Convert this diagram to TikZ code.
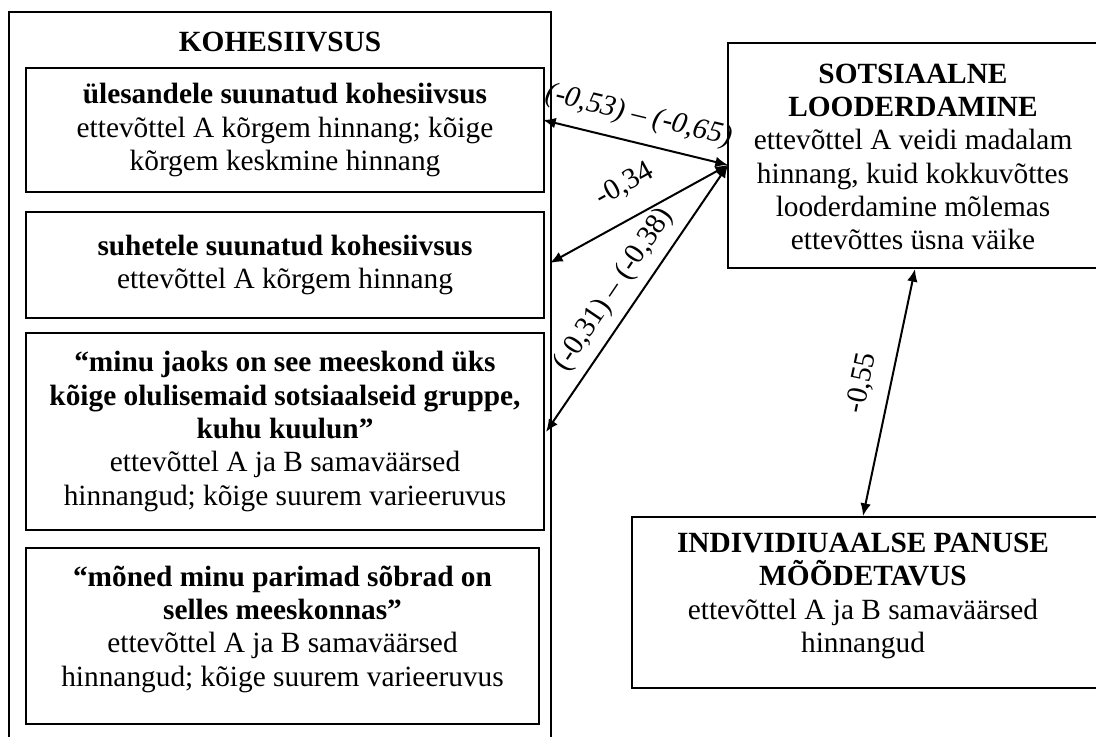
\documentclass[tikz,border=0pt]{standalone}
\usepackage{fontspec}
\setmainfont{Liberation Serif}
\usetikzlibrary{arrows.meta}
\begin{document}
\begin{tikzpicture}[x=0.75pt,y=-0.75pt,
  box/.style={draw,line width=1.5pt,align=center,inner sep=0pt,
    font=\fontsize{22}{25}\selectfont},
  txt/.style={align=center,inner sep=0pt,font=\fontsize{22}{25}\selectfont},
  conn/.style={line width=1.5pt,{Latex[length=9.5pt,width=8pt]}-{Latex[length=9.5pt,width=8pt]}},
  lab/.style={font=\fontsize{22}{25}\selectfont,inner sep=1pt}]
\useasboundingbox (0,0) rectangle (1096,736);
% outer container
\draw[line width=1.5pt] (9,745) -- (9,12) -- (551,12) -- (551,745);
\node[font=\bfseries\fontsize{22}{25}\selectfont] (title) at (280,42) {KOHESIIVSUS};
\node[box,minimum width=388.5pt,minimum height=93pt] (b1) at (285,130)
  {\textbf{ülesandele suunatud kohesiivsus}\\ettevõttel A kõrgem hinnang; kõige\\kõrgem keskmine hinnang};
\node[box,minimum width=388.5pt,minimum height=79.5pt] (b2) at (285,265)
  {\textbf{suhetele suunatud kohesiivsus}\\ettevõttel A kõrgem hinnang};
\node[box,minimum width=388.5pt,minimum height=147.75pt] (b3) at (285,431.5)
  {\textbf{“minu jaoks on see meeskond üks}\\\textbf{kõige olulisemaid sotsiaalseid gruppe,}\\\textbf{kuhu kuulun”}\\ettevõttel A ja B samaväärsed\\hinnangud; kõige suurem varieeruvus};
\node[box,minimum width=384.75pt,minimum height=132pt] (b4) at (282.5,636) {};
\node[txt] (b4t) at (282.5,629)
  {\textbf{“mõned minu parimad sõbrad on}\\\textbf{selles meeskonnas”}\\ettevõttel A ja B samaväärsed\\hinnangud; kõige suurem varieeruvus};
% right boxes (their right edges lie beyond the picture's edge)
\node[box,minimum width=286.5pt,minimum height=168.75pt] (sl) at (919,155.5) {};
\node[txt] (slt) at (913,157)
  {\textbf{SOTSIAALNE}\\\textbf{LOODERDAMINE}\\ettevõttel A veidi madalam\\hinnang, kuid kokkuvõttes\\looderdamine mõlemas\\ettevõttes üsna väike};
\node[box,minimum width=358.5pt,minimum height=128.25pt] (ip) at (871,602.5) {};
\node[txt] (ipt) at (863,596)
  {\textbf{INDIVIDIUAALSE PANUSE}\\\textbf{MÕÕDETAVUS}\\ettevõttel A ja B samaväärsed\\hinnangud};
% connector endpoints
\coordinate (hub) at (728,165);
\coordinate (e1) at (543,120);
\coordinate (e2) at (550,263);
\coordinate (e3) at (546,432);
\coordinate (s4) at (915,269);
\coordinate (t4) at (863,516);
\draw[conn] (e1) -- (hub);
\draw[conn] (e2) -- (hub);
\draw[conn] (e3) -- (hub);
\draw[conn] (s4) -- (t4);
% labels
\node[lab,rotate=-13.7] (l1) at (639,116) {\textit{(-0,53) – (-0,65)}};
\node[lab,rotate=29] (l2) at (625,185) {-0,34};
\node[lab,rotate=56] (l3) at (614,290) {(-0,31) – (-0,38)};
\node[lab,rotate=78] (l4) at (862,383) {-0,55};
\end{tikzpicture}
\end{document}
